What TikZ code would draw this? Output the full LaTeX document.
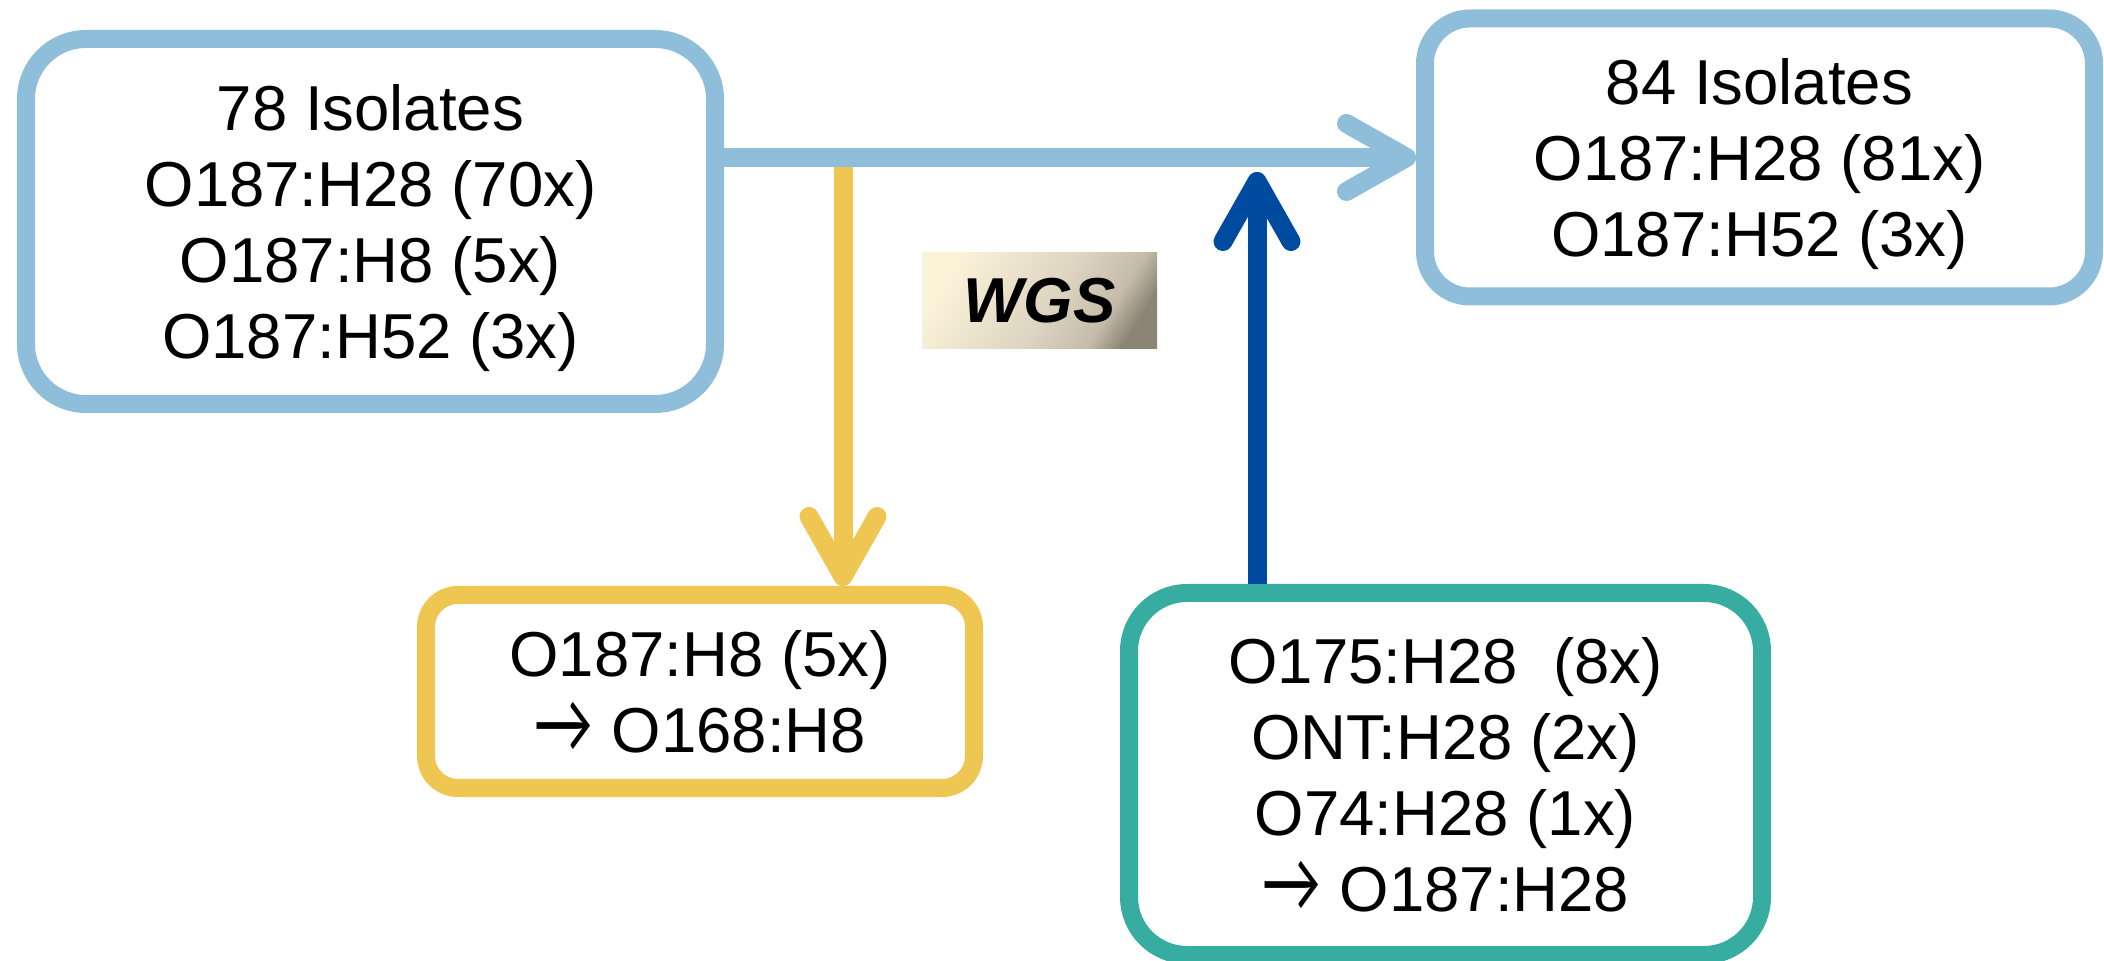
\documentclass[tikz,border=0pt]{standalone}
\usepackage{fontspec}
\usepackage{graphicx}
\setmainfont{Liberation Sans}
\newfontfamily\arrowfont{Lato}
\usetikzlibrary{arrows.meta}

\definecolor{boxblue}{RGB}{142,190,218}
\definecolor{boxyellow}{RGB}{239,198,82}
\definecolor{boxteal}{RGB}{55,172,160}
\definecolor{arrowblue}{RGB}{0,74,160}
\definecolor{wgsA}{RGB}{251,242,216}
\definecolor{wgsB}{RGB}{222,213,194}
\definecolor{wgsC}{RGB}{196,187,168}
\definecolor{wgsD}{RGB}{140,133,117}
\pgfdeclarehorizontalshading{wgsfade}{100bp}{color(0bp)=(wgsA); color(25bp)=(wgsA); color(52bp)=(wgsB); color(68bp)=(wgsC); color(76bp)=(wgsD); color(100bp)=(wgsD)}

\newcommand{\becomes}{\scalebox{0.95}[1.3]{\arrowfont →}}

\begin{document}
\begin{tikzpicture}[
	x=0.5pt, y=-0.5pt,
	isolates/.style={
		rectangle,
		draw,
		line width=9pt,
		fill=white,
		inner sep=0pt,
		align=center,
		text depth=0pt,
		font=\fontsize{31.75pt}{38pt}\selectfont,
	},
	ArrowS/.style={% open arrows with round ends
		line width=9.5pt,
		-{Straight Barb[length=30pt, width=34pt, round]},
	},
]
\useasboundingbox (0,0) rectangle (2104,961);

\node[isolates, draw=boxblue, rounded corners=30pt, minimum width=344.5pt, minimum height=182.5pt] (start) at (370.5,221.5) {78 Isolates\\O187:H28 (70x)\\O187:H8 (5x)\\O187:H52 (3x)};
\node[isolates, draw=boxblue, rounded corners=22.5pt, minimum width=334.5pt, minimum height=139pt] (final) at (1759.5,157.5) {84 Isolates\\O187:H28 (81x)\\O187:H52 (3x)};
\node[isolates, draw=boxyellow, rounded corners=16pt, minimum width=274pt, minimum height=96.5pt] (lost) at (700,691.5) {O187:H8 (5x)\\\becomes\ O168:H8};
\node[isolates, draw=boxteal, rounded corners=29pt, minimum width=316.5pt, minimum height=181pt] (gained) at (1445.5,774) {O175:H28~~(8x)\\ONT:H28 (2x)\\O74:H28 (1x)\\\becomes\ O187:H28};

\node[shading=wgsfade, shading angle=-32, minimum width=117.5pt, minimum height=48pt, inner sep=0pt, font=\fontsize{31.75pt}{38pt}\selectfont\bfseries\itshape] (wgs) at (1039.5,301) {WGS};

\coordinate (fork) at (843,158);
\coordinate (merge) at (1257,172);

\draw[ArrowS, draw=boxyellow] (fork) -- (fork |- lost.north);
\draw[ArrowS, draw=boxblue] (start.east |- final.west) -- (final.west);
\draw[ArrowS, draw=arrowblue] (merge |- gained.north) -- (merge);

\end{tikzpicture}
\end{document}
